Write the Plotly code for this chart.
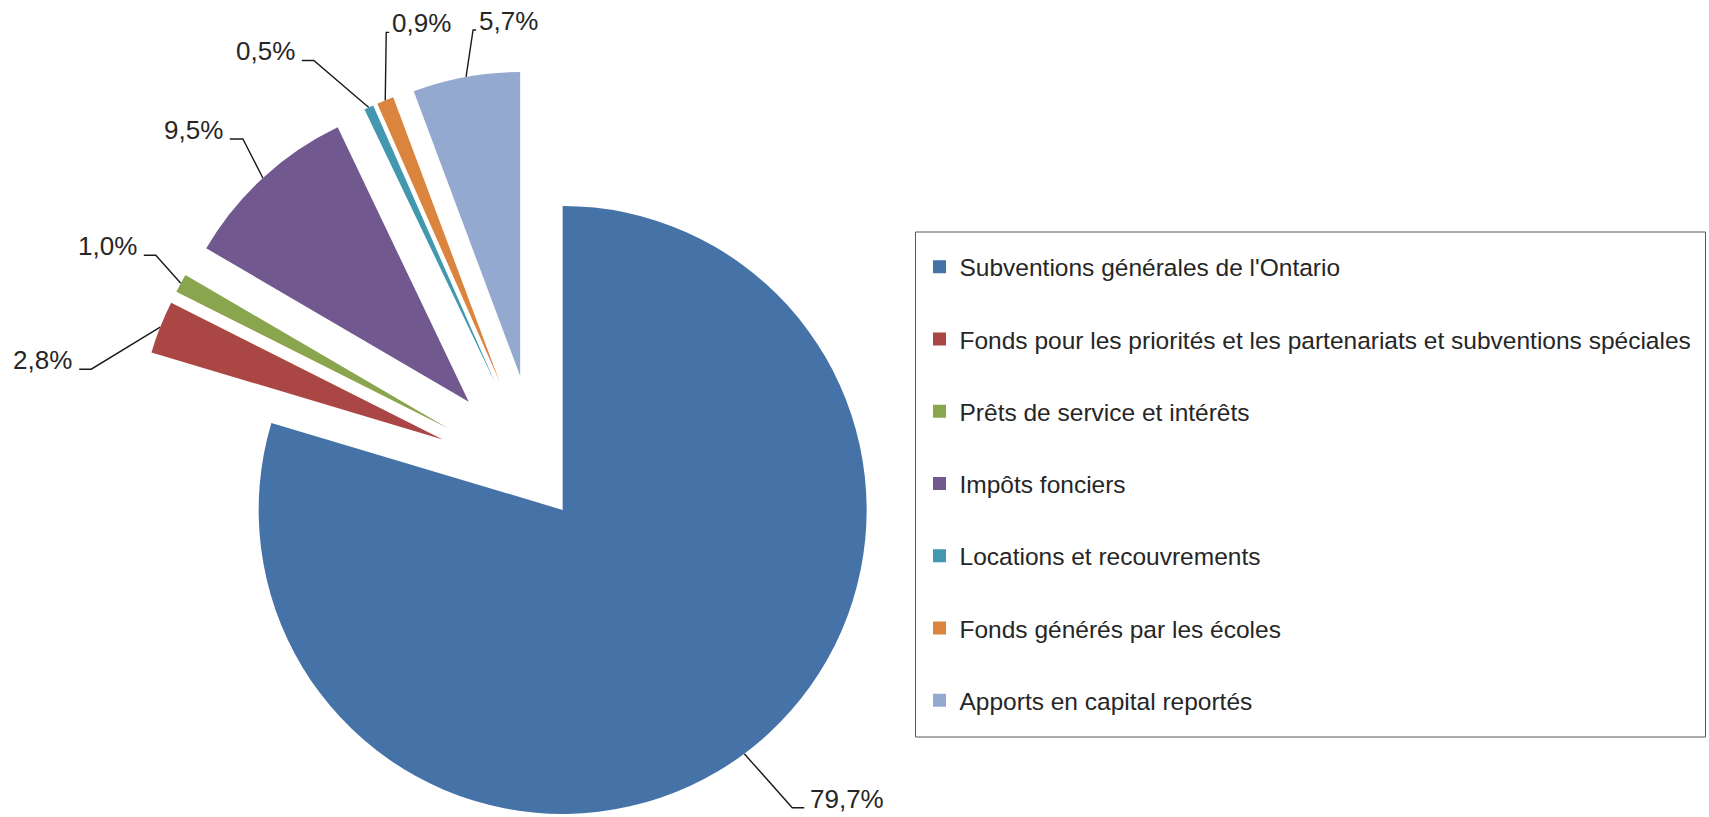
import numpy as np
import plotly.graph_objects as go

# ---------------- data ----------------
categories = [
    "Subventions générales de l'Ontario",
    "Fonds pour les priorités et les partenariats et subventions spéciales",
    "Prêts de service et intérêts",
    "Impôts fonciers",
    "Locations et recouvrements",
    "Fonds générés par les écoles",
    "Apports en capital reportés",
]
values = [79.7, 2.8, 1.0, 9.5, 0.5, 0.9, 5.7]

# ---------------- style ----------------
colors = ["#4572A7", "#AA4643", "#89A54E", "#71588F", "#4198AF", "#DB843D", "#93A9CF"]
explode = [0.133, 0.339, 0.339, 0.339, 0.339, 0.339, 0.339]   # pull, fraction of radius
FONT = "Liberation Sans, Arial, sans-serif"
TXT = "#262626"
W, H = 1709, 817
R = 304.0                   # pie radius (px)
C0 = (538.5, 477.5)         # pie centre before explosion (px)
# leader line: elbow offset from arc point (dx, dy), side (+1 right / -1 left), tail, gap
leader = [
    (48, 54, 1, 12, 5),
    (-69, 42, -1, 12, 6),
    (-25, -28, -1, 12, 6),
    (-20, -39, -1, 13, 6),
    (-55, -47, -1, 12, 6),
    (1, -68, 1, 3, 2),
    (7, -47, 1, 3, 2),
]

fig = go.Figure()

total = float(sum(values))
vals = np.array(values, dtype=float)
cum = np.concatenate([[0.0], np.cumsum(vals)[:-1]])
mid = 2 * np.pi * (cum + vals / 2) / total

lx, ly, annots = [], [], []
for i in range(len(values)):
    ux, uy = np.sin(mid[i]), -np.cos(mid[i])
    cx = C0[0] + explode[i] * R * ux
    cy = C0[1] + explode[i] * R * uy
    slice_colors = [colors[j] if j == i else "rgba(0,0,0,0)" for j in range(len(values))]
    fig.add_trace(go.Pie(
        labels=categories, values=values, sort=False, direction="clockwise", rotation=0,
        marker=dict(colors=slice_colors, line=dict(width=0)),
        textinfo="none", hoverinfo="skip", showlegend=False,
        domain=dict(x=[(cx - R) / W, (cx + R) / W], y=[1 - (cy + R) / H, 1 - (cy - R) / H]),
    ))
    # leader line + label
    ax_, ay_ = cx + R * ux, cy + R * uy
    dx, dy, side, tail, gap = leader[i]
    ex, ey = ax_ + dx, ay_ + dy
    tx = ex + side * tail
    lx += [ax_, ex, tx, None]
    ly += [ay_, ey, ey, None]
    txt = f"{values[i]:.1f}%".replace(".", ",")
    annots.append(dict(
        x=tx + side * gap, y=ey - 9, xref="x", yref="y", text=txt, showarrow=False,
        xanchor="left" if side > 0 else "right", yanchor="middle",
        font=dict(family=FONT, size=26, color=TXT), borderpad=0,
    ))

fig.add_trace(go.Scatter(x=lx, y=ly, mode="lines", line=dict(color="#1a1a1a", width=1.4),
                         hoverinfo="skip", showlegend=False))

# legend entries
for i, name in enumerate(categories):
    fig.add_trace(go.Scatter(
        x=[None], y=[None], mode="markers", name=name, legendgroup=f"g{i}",
        marker=dict(symbol="square", size=13, color=colors[i]), showlegend=True,
    ))

fig.update_layout(
    width=W, height=H,
    margin=dict(l=0, r=0, t=0, b=0),
    paper_bgcolor="white", plot_bgcolor="white",
    hovermode=False,
    xaxis=dict(range=[0, W], visible=False, fixedrange=True),
    yaxis=dict(range=[H, 0], visible=False, fixedrange=True),
    showlegend=True,
    legend=dict(
        x=919.5 / W, y=1 - 244.3 / H, xanchor="left", yanchor="top",
        font=dict(family=FONT, size=24.5, color=TXT),
        traceorder="grouped", tracegroupgap=37.4,
        bgcolor="rgba(0,0,0,0)", borderwidth=0,
    ),
    annotations=annots,
    shapes=[dict(type="rect", xref="x", yref="y", x0=915.5, y0=232, x1=1705.5, y1=737,
                 line=dict(color="#595959", width=1), layer="below")],
)

fig.write_html(
    "out.html",
    config={"displayModeBar": False},
    post_script="document.body.style.margin='0';document.body.style.overflow='hidden';",
)
